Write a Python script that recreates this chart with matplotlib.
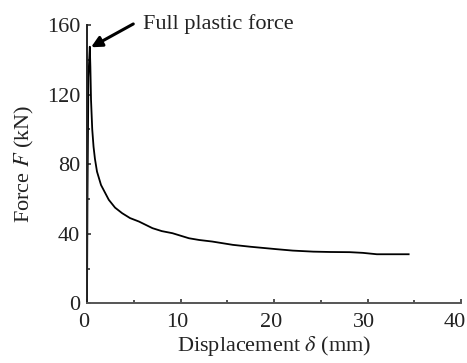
import matplotlib
matplotlib.use("Agg")
import matplotlib.pyplot as plt
from matplotlib.ticker import MultipleLocator
from matplotlib.transforms import ScaledTranslation, blended_transform_factory

disp = [0.0, 0.05, 0.15, 0.3, 0.36, 0.43, 0.56, 0.7, 0.85, 1.07, 1.5, 2.33, 3.0, 3.76, 4.6, 5.56, 7.0, 8.0, 9.14, 10.9, 12.0, 13.4, 15.6, 17.5, 20.3, 22.0, 24.2, 26.0, 28.1, 29.5, 31.0, 33.0, 34.4]
force = [0.0, 60.0, 130.0, 147.5, 136.0, 117.0, 100.0, 90.0, 83.0, 75.7, 68.0, 59.5, 55.0, 51.8, 49.0, 47.0, 43.2, 41.5, 40.3, 37.4, 36.4, 35.5, 33.6, 32.5, 31.1, 30.3, 29.7, 29.5, 29.4, 29.0, 28.2, 28.2, 28.2]
xticks = [0, 10, 20, 30, 40]
xtick_labels = ['0', '10', '20', '30', '40']

plt.rcParams['font.family'] = ['Liberation Serif', 'DejaVu Serif']
plt.rcParams['mathtext.fontset'] = 'stix'

fig = plt.figure(figsize=(4.67, 3.63), dpi=100)
ax = fig.add_axes([87 / 467, 1 - 303.3 / 363, (461 - 87) / 467, (303.3 - 25) / 363])
ax.plot(disp, force, color='black', lw=1.3)
ax.set_xlim(0, 40)
ax.set_ylim(0, 160)
ax.set_xticks(xticks)
ax.xaxis.set_minor_locator(MultipleLocator(5))
ax.yaxis.set_major_locator(MultipleLocator(40))
ax.yaxis.set_minor_locator(MultipleLocator(20))
for s in ['top', 'right']:
    ax.spines[s].set_visible(False)
ax.spines['left'].set_color('#222222')
ax.spines['bottom'].set_color('#555555')
for s in ['left', 'bottom']:
    ax.spines[s].set_linewidth(1.4)
ax.tick_params(which='major', direction='in', length=3, width=1.2, colors='#333333', labelsize=16, labelcolor='#222222', pad=5)
ax.tick_params(axis='x', which='major', labelbottom=False)
ax.tick_params(which='minor', direction='in', length=2.5, width=1.2, colors='#333333')

base = blended_transform_factory(ax.transData, ax.transAxes)
for i, (xv, lab) in enumerate(zip(xticks, xtick_labels)):
    dx = -6 if i == len(xticks) - 1 else -3
    tr = base + ScaledTranslation(dx / 100, -10 / 100, fig.dpi_scale_trans)
    ax.text(xv, 0, lab, transform=tr, ha='center', va='top', fontsize=16, color='#222222', clip_on=False)

ax.set_xlabel(r'Displacement $\delta$ (mm)', fontsize=16, labelpad=19, color='#222222')
ax.set_ylabel(r'Force $F$ (kN)', fontsize=16, labelpad=8, color='#222222')

ax.text(6.0, 160.5, 'Full plastic force', fontsize=16, va='center', ha='left', color='#222222', clip_on=False)
ax.annotate('', xy=(0.43, 147.2), xytext=(4.95, 160.6),
            arrowprops=dict(arrowstyle='-|>', color='black', lw=2.2, mutation_scale=16,
                            shrinkA=0, shrinkB=0), annotation_clip=False)
fig.savefig('out.png', dpi=100)
